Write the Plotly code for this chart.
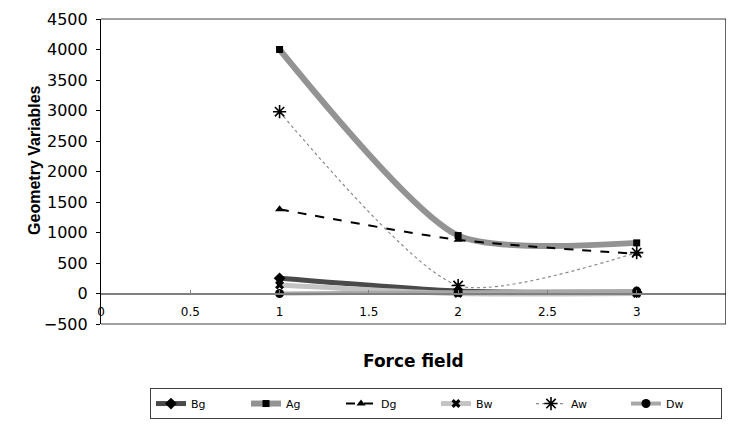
import plotly.graph_objects as go

x_vals = [1, 2, 3]
series_names = ["Bg", "Ag", "Dg", "Bw", "Aw", "Dw"]
bg = [250, 40, 20]
ag = [4000, 950, 830]
dg = [1380, 880, 650]
bw = [140, 0, 0]
aw = [2980, 130, 670]
dw = [0, 20, 40]

x_ticks = [0, 0.5, 1, 1.5, 2, 2.5, 3, 3.5]
y_ticks = list(range(-500, 4501, 500))

SM = 0.65
styles = {
    "Bg": dict(line=dict(color="#4a4a4a", width=5, shape="spline", smoothing=SM),
               marker=dict(symbol="diamond", size=9, color="black")),
    "Ag": dict(line=dict(color="#939393", width=6, shape="spline", smoothing=SM),
               marker=dict(symbol="square", size=7, color="black")),
    "Dg": dict(line=dict(color="black", width=2, dash="dash", shape="spline", smoothing=SM),
               marker=dict(symbol="triangle-up", size=8, color="black")),
    "Bw": dict(line=dict(color="#c4c4c4", width=5, shape="spline", smoothing=SM),
               marker=dict(symbol="x", size=8, color="black")),
    "Aw": dict(line=dict(color="#8a8a8a", width=1.2, dash="dot", shape="spline", smoothing=SM),
               marker=dict(symbol="asterisk-open", size=11, color="black",
                           line=dict(color="black", width=1.6))),
    "Dw": dict(line=dict(color="#a8a8a8", width=4, shape="spline", smoothing=SM),
               marker=dict(symbol="circle", size=9, color="black")),
}
data = {"Bg": bg, "Ag": ag, "Dg": dg, "Bw": bw, "Aw": aw, "Dw": dw}

fig = go.Figure()
for name in series_names:
    fig.add_trace(go.Scatter(x=x_vals, y=data[name], mode="lines+markers",
                             name=name, **styles[name]))

FONT = "DejaVu Sans, sans-serif"
fig.update_layout(
    width=718, height=412,
    margin=dict(l=93, r=0, t=11, b=96, autoexpand=False),
    paper_bgcolor="white", plot_bgcolor="white",
    font=dict(family=FONT, size=13, color="black"),
    showlegend=True,
    legend=dict(orientation="h", x=0.0784, xanchor="left", y=-0.21, yanchor="top",
                bordercolor="#404040", borderwidth=1, font=dict(size=11),
                entrywidth=50, entrywidthmode="pixels", tracegroupgap=0,
                itemwidth=30),
    xaxis=dict(range=[0, 3.5], tickvals=x_ticks, ticktext=[str(t) for t in x_ticks],
               anchor="free", position=0.1, showline=True, linecolor="#808080",
               linewidth=1.5, ticks="inside", ticklen=3, tickcolor="#808080",
               showgrid=False, zeroline=False, tickfont=dict(size=12),
               ticklabelstandoff=7),
    yaxis=dict(range=[-500, 4500], tickvals=y_ticks, showline=True, linecolor="black",
               linewidth=1.2, ticks="outside", ticklen=4, tickcolor="black",
               showgrid=False, zeroline=False, tickfont=dict(size=16),
               ticklabelstandoff=5),
    shapes=[
        dict(type="line", xref="paper", yref="paper", x0=0, x1=1, y0=1, y1=1,
             line=dict(color="#808080", width=1.5)),
        dict(type="line", xref="paper", yref="paper", x0=0, x1=1, y0=0, y1=0,
             line=dict(color="#808080", width=1.5)),
        dict(type="line", xref="paper", yref="paper", x0=1, x1=1, y0=0, y1=1,
             line=dict(color="black", width=1.2)),
    ],
    annotations=[
        dict(text="<b>Force field</b>", xref="paper", yref="paper", x=0.5, y=-0.12,
             xanchor="center", yanchor="middle", showarrow=False,
             font=dict(size=17, family=FONT)),
        dict(text="<b>Geometry Variables</b>", xref="paper", yref="paper", x=-0.1056,
             y=0.538, xanchor="center", yanchor="middle", textangle=-90, showarrow=False,
             font=dict(size=16, family="Liberation Sans, Arial, sans-serif")),
    ],
)

fig.write_html("out.html")
